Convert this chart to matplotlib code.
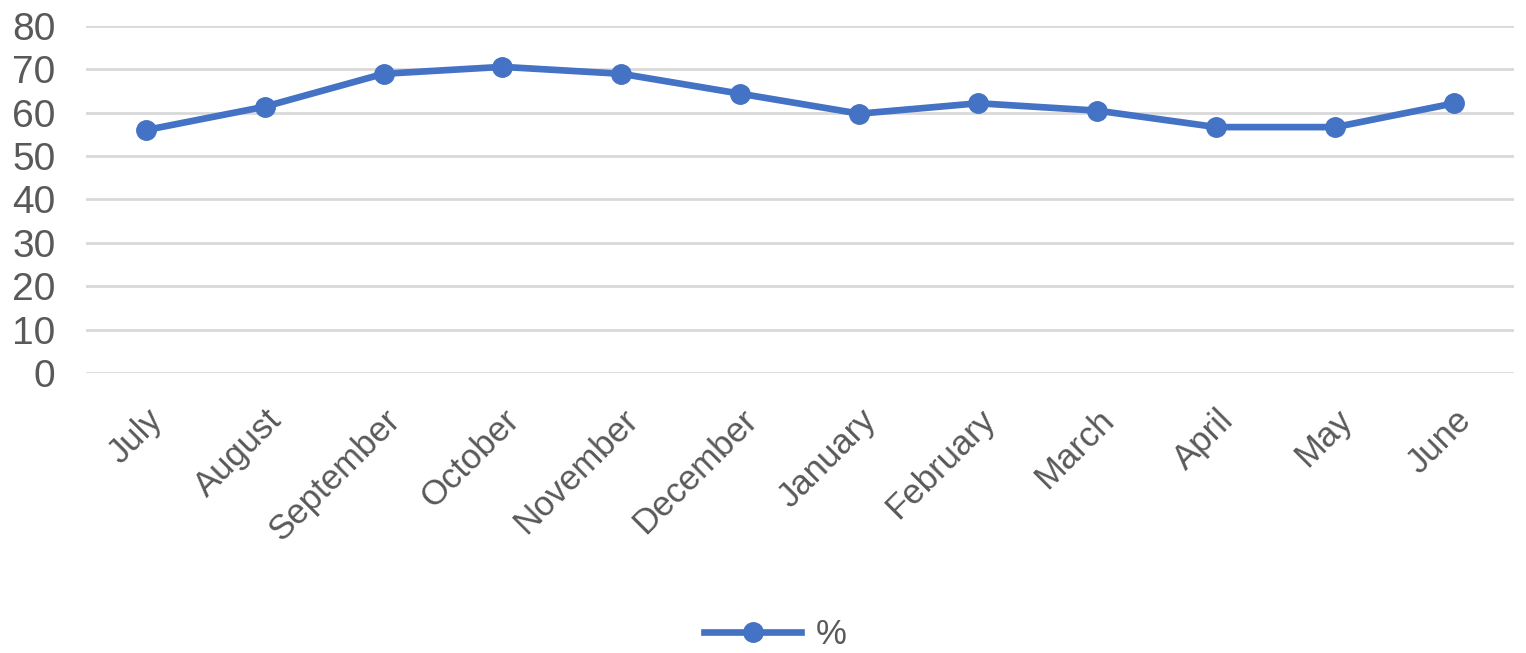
import matplotlib.pyplot as plt
import numpy as np

months = ['July', 'August', 'September', 'October', 'November', 'December',
          'January', 'February', 'March', 'April', 'May', 'June']
pct = [56.0, 61.4, 69.0, 70.6, 69.0, 64.4, 59.8, 62.2, 60.5, 56.7, 56.7, 62.2]
yticks = [0, 10, 20, 30, 40, 50, 60, 70, 80]

plt.rcParams['font.family'] = ['Liberation Sans', 'DejaVu Sans']
txt = '#595959'
blue = '#4472C4'

fig = plt.figure(figsize=(15.26, 6.53), dpi=100)
ax = fig.add_axes([0.0564, 0.429, 0.9356, 0.531])

x = np.arange(len(months))
ax.plot(x, pct, color=blue, lw=4.8, marker='o', ms=14, label='%', zorder=3)

ax.set_xlim(-0.5, len(months) - 0.5)
ax.set_ylim(0, 80)
ax.set_yticks(yticks)
ax.set_yticklabels([str(v) for v in yticks], fontsize=28, color=txt)
ax.set_xticks(x)
ax.set_xticklabels(months, rotation=45, ha='right', rotation_mode='anchor',
                   fontsize=25, color=txt)
ax.tick_params(axis='both', length=0)
ax.tick_params(axis='x', pad=22)
ax.tick_params(axis='y', pad=22)
ax.grid(axis='y', color='#D9D9D9', lw=2)
ax.set_axisbelow(True)
for s in ax.spines.values():
    s.set_visible(False)

fig.legend(loc='center', bbox_to_anchor=(0.508, 0.028), frameon=False,
           fontsize=25, handlelength=2.8, handletextpad=0.4, labelcolor=txt)

fig.savefig('out.png', dpi=100)
